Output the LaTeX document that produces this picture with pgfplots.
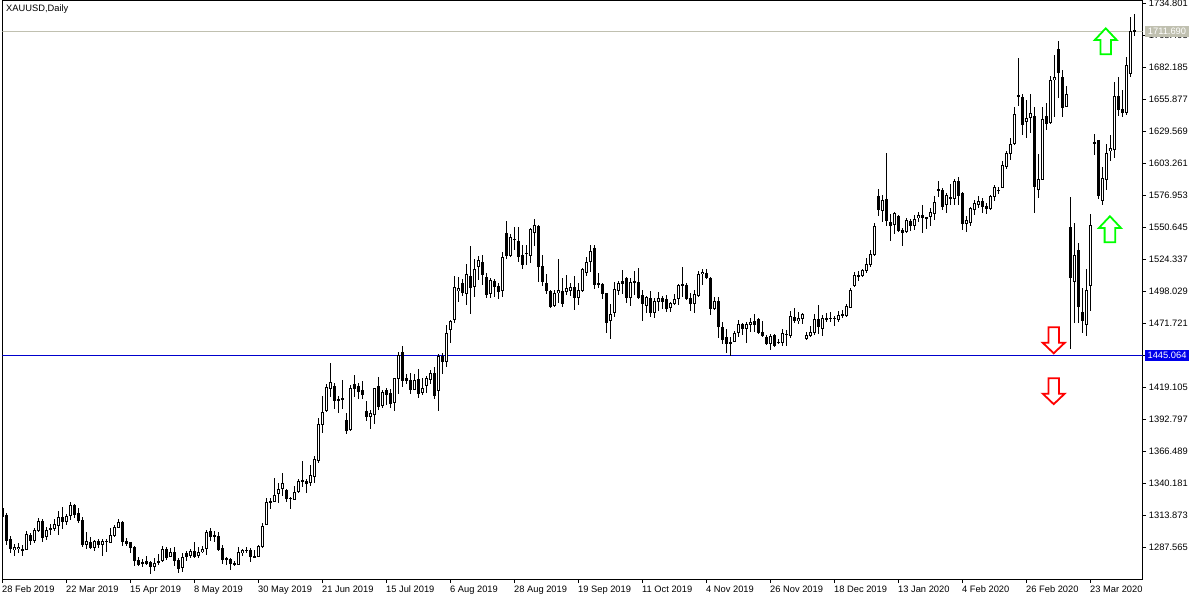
\documentclass[border=0pt]{standalone}
\usepackage{fontspec}
\setmainfont{Liberation Sans}
\usepackage{pgfplots}
\usepackage{pgfplotstable}
\pgfplotsset{compat=1.18}
\definecolor{lineblue}{RGB}{0,0,205}
\definecolor{labelblue}{RGB}{0,0,235}
\definecolor{pricegrey}{RGB}{192,192,176}
\definecolor{upgreen}{RGB}{0,255,0}
\definecolor{downred}{RGB}{255,0,0}
\pgfdeclareplotmark{bigup}{%
  \pgfpathmoveto{\pgfqpoint{0bp}{13bp}}%
  \pgfpathlineto{\pgfqpoint{11bp}{1.3bp}}%
  \pgfpathlineto{\pgfqpoint{5.3bp}{1.3bp}}%
  \pgfpathlineto{\pgfqpoint{5.3bp}{-13bp}}%
  \pgfpathlineto{\pgfqpoint{-5.3bp}{-13bp}}%
  \pgfpathlineto{\pgfqpoint{-5.3bp}{1.3bp}}%
  \pgfpathlineto{\pgfqpoint{-11bp}{1.3bp}}%
  \pgfpathclose\pgfusepathqfillstroke}
\pgfdeclareplotmark{bigdown}{%
  \pgfpathmoveto{\pgfqpoint{0bp}{-13bp}}%
  \pgfpathlineto{\pgfqpoint{11bp}{-2.5bp}}%
  \pgfpathlineto{\pgfqpoint{5.3bp}{-2.5bp}}%
  \pgfpathlineto{\pgfqpoint{5.3bp}{13bp}}%
  \pgfpathlineto{\pgfqpoint{-5.3bp}{13bp}}%
  \pgfpathlineto{\pgfqpoint{-5.3bp}{-2.5bp}}%
  \pgfpathlineto{\pgfqpoint{-11bp}{-2.5bp}}%
  \pgfpathclose\pgfusepathqfillstroke}
\pgfplotstableread{
i o h l c
0 1319.8 1320.3 1312.9 1312.9
1 1314.0 1315.9 1289.6 1293.2
2 1294.3 1296.8 1282.8 1286.6
3 1285.8 1290.4 1280.9 1287.7
4 1286.3 1291.0 1283.0 1288.2
5 1286.3 1289.6 1280.9 1285.5
6 1285.5 1301.1 1285.5 1298.7
7 1297.8 1299.8 1289.6 1293.2
8 1293.2 1303.3 1291.0 1301.9
9 1301.1 1312.1 1300.0 1309.3
10 1309.3 1310.7 1291.8 1295.6
11 1296.2 1304.1 1293.7 1301.9
12 1301.7 1306.9 1297.8 1303.3
13 1303.0 1311.0 1301.4 1306.9
14 1305.5 1317.6 1297.8 1312.4
15 1312.4 1321.1 1302.8 1308.5
16 1308.8 1315.1 1306.1 1313.5
17 1313.5 1325.0 1310.2 1322.5
18 1322.5 1323.3 1312.1 1314.3
19 1315.9 1319.8 1308.0 1309.3
20 1310.2 1312.4 1287.7 1289.3
21 1289.6 1300.0 1286.6 1292.6
22 1291.8 1296.5 1286.6 1287.2
23 1287.2 1293.7 1284.9 1292.6
24 1292.6 1294.3 1287.2 1289.6
25 1289.6 1294.3 1280.6 1292.9
26 1293.2 1294.3 1284.1 1292.1
27 1291.5 1303.9 1291.5 1297.8
28 1297.0 1306.1 1296.5 1304.1
29 1303.9 1310.7 1303.3 1308.3
30 1308.8 1309.3 1289.1 1292.3
31 1292.6 1295.6 1289.1 1290.7
32 1291.8 1292.4 1282.8 1287.4
33 1288.0 1288.5 1272.6 1276.7
34 1277.0 1280.0 1272.6 1273.4
35 1275.6 1278.1 1271.5 1274.5
36 1276.2 1280.3 1273.2 1274.3
37 1275.6 1276.7 1266.0 1271.8
38 1271.8 1278.6 1268.2 1275.1
39 1275.4 1282.2 1273.2 1276.7
40 1276.7 1288.8 1275.6 1286.1
41 1286.3 1287.7 1277.3 1279.2
42 1280.0 1286.9 1279.8 1283.9
43 1283.9 1287.7 1272.4 1276.7
44 1277.3 1278.6 1266.3 1270.2
45 1270.4 1283.3 1267.7 1279.5
46 1282.8 1284.9 1276.7 1280.0
47 1280.9 1286.6 1278.6 1284.7
48 1284.7 1291.8 1278.9 1280.0
49 1280.9 1288.2 1278.6 1283.6
50 1283.9 1289.1 1283.3 1286.1
51 1286.6 1301.9 1281.4 1300.3
52 1301.1 1303.3 1292.9 1296.5
53 1297.6 1301.4 1292.4 1296.7
54 1297.0 1300.6 1284.7 1285.5
55 1287.2 1289.3 1273.7 1277.3
56 1278.9 1280.0 1273.4 1277.8
57 1277.8 1278.6 1269.1 1274.0
58 1274.8 1276.2 1272.6 1273.4
59 1273.4 1287.7 1272.9 1283.6
60 1282.8 1286.1 1280.9 1285.2
61 1285.8 1287.7 1282.8 1285.0
62 1285.5 1286.9 1275.6 1279.5
63 1280.3 1285.5 1279.5 1279.5
64 1280.0 1289.9 1279.5 1288.8
65 1288.2 1307.4 1287.4 1304.9
66 1306.3 1328.0 1306.3 1324.7
67 1325.8 1328.5 1319.5 1324.7
68 1325.2 1345.0 1324.7 1330.4
69 1331.8 1340.3 1324.4 1335.6
70 1335.6 1348.8 1329.9 1340.6
71 1334.6 1335.4 1325.2 1327.7
72 1328.3 1329.3 1319.5 1327.4
73 1326.9 1338.1 1326.3 1333.2
74 1333.5 1343.6 1332.1 1342.5
75 1342.8 1358.7 1337.6 1341.1
76 1342.0 1344.2 1332.6 1339.5
77 1340.3 1355.4 1338.1 1346.9
78 1345.8 1362.8 1340.9 1360.1
79 1358.4 1393.8 1357.3 1389.1
80 1388.0 1412.1 1382.0 1398.7
81 1399.8 1422.0 1399.0 1419.5
82 1418.1 1439.2 1411.3 1423.3
83 1420.3 1422.5 1401.4 1408.3
84 1409.6 1412.4 1398.1 1408.3
85 1410.5 1425.3 1401.4 1409.1
86 1392.4 1397.9 1381.2 1383.6
87 1384.4 1420.9 1383.3 1418.4
88 1421.7 1429.1 1411.6 1418.1
89 1420.1 1422.5 1409.6 1415.1
90 1416.8 1424.2 1409.9 1413.2
91 1399.5 1408.0 1391.8 1394.9
92 1395.1 1400.6 1385.3 1397.9
93 1396.2 1418.4 1389.4 1418.4
94 1420.1 1427.5 1400.6 1403.3
95 1404.2 1417.0 1402.2 1415.1
96 1416.8 1418.4 1404.7 1413.2
97 1414.3 1417.6 1402.2 1405.8
98 1406.6 1426.6 1400.1 1426.6
99 1426.4 1448.3 1413.8 1445.5
100 1448.0 1453.2 1419.8 1424.7
101 1426.9 1430.5 1422.0 1424.7
102 1425.0 1430.7 1413.8 1417.3
103 1417.0 1430.2 1416.8 1425.0
104 1425.8 1434.3 1410.5 1414.0
105 1414.6 1427.2 1413.2 1418.4
106 1420.6 1428.6 1414.9 1426.6
107 1425.5 1433.5 1422.3 1430.7
108 1430.7 1436.2 1409.6 1412.4
109 1415.9 1446.6 1400.1 1445.3
110 1445.3 1447.7 1430.2 1440.3
111 1440.3 1470.5 1435.9 1463.6
112 1466.6 1474.6 1456.0 1474.0
113 1474.9 1510.8 1472.4 1501.5
114 1498.7 1509.7 1489.4 1500.6
115 1504.7 1508.0 1494.3 1497.1
116 1496.2 1520.6 1487.2 1512.1
117 1510.8 1535.4 1479.8 1501.2
118 1501.5 1524.7 1493.8 1516.3
119 1518.4 1527.2 1507.5 1523.6
120 1522.0 1528.0 1503.1 1511.9
121 1509.7 1513.0 1492.7 1495.4
122 1496.2 1508.8 1492.7 1507.5
123 1506.7 1508.0 1493.8 1502.0
124 1502.3 1504.7 1492.1 1497.9
125 1498.7 1530.8 1493.8 1526.1
126 1545.9 1556.0 1525.0 1527.5
127 1527.5 1545.3 1526.1 1542.6
128 1541.2 1550.8 1532.1 1540.4
129 1539.3 1550.8 1522.6 1526.7
130 1527.8 1536.3 1516.8 1519.8
131 1529.7 1536.3 1519.8 1528.9
132 1526.9 1550.5 1521.5 1549.1
133 1546.4 1557.4 1535.4 1552.4
134 1551.9 1553.0 1506.1 1518.4
135 1518.7 1528.0 1502.3 1506.1
136 1505.0 1512.4 1496.0 1498.4
137 1498.1 1499.3 1484.7 1485.6
138 1486.1 1499.3 1485.6 1496.5
139 1496.5 1524.5 1488.9 1499.0
140 1498.4 1508.8 1485.3 1487.7
141 1497.9 1511.6 1494.9 1500.6
142 1498.7 1504.7 1494.3 1501.5
143 1501.5 1510.8 1482.8 1492.9
144 1492.9 1504.7 1486.9 1499.3
145 1498.7 1517.6 1497.6 1516.5
146 1512.9 1526.7 1510.5 1522.0
147 1522.5 1536.3 1514.0 1531.0
148 1533.5 1536.3 1500.1 1503.6
149 1504.7 1512.9 1500.6 1503.6
150 1503.9 1505.3 1491.6 1496.2
151 1496.5 1497.1 1464.2 1472.4
152 1473.5 1487.7 1459.2 1479.3
153 1480.1 1505.8 1477.3 1499.8
154 1498.7 1506.7 1495.2 1504.7
155 1506.4 1515.7 1496.0 1504.5
156 1509.1 1510.2 1488.3 1493.0
157 1493.0 1508.8 1486.1 1505.6
158 1506.4 1515.2 1495.2 1505.3
159 1505.6 1517.4 1491.6 1492.7
160 1495.2 1499.3 1474.0 1488.0
161 1486.4 1494.3 1480.1 1493.2
162 1492.4 1498.2 1477.3 1480.6
163 1480.6 1492.4 1476.5 1490.5
164 1489.7 1497.3 1482.0 1492.7
165 1492.7 1494.3 1483.9 1489.7
166 1491.9 1495.4 1481.2 1483.9
167 1484.7 1489.7 1481.4 1488.3
168 1487.7 1495.7 1487.2 1491.9
169 1491.6 1504.2 1487.2 1503.4
170 1503.9 1518.4 1493.8 1502.8
171 1503.4 1505.3 1491.0 1492.1
172 1492.7 1497.1 1482.3 1487.7
173 1488.0 1499.3 1480.4 1496.0
174 1494.6 1514.9 1493.8 1512.4
175 1512.1 1516.8 1503.4 1514.0
176 1513.2 1516.2 1508.9 1509.4
177 1509.1 1509.7 1478.7 1483.9
178 1483.9 1493.8 1482.8 1490.2
179 1490.2 1493.2 1460.1 1468.6
180 1468.6 1473.0 1454.9 1458.2
181 1460.4 1466.9 1447.7 1455.2
182 1456.5 1460.9 1445.0 1455.2
183 1456.8 1465.8 1456.5 1463.6
184 1464.2 1474.6 1460.9 1471.0
185 1471.0 1472.4 1462.3 1467.5
186 1467.5 1473.2 1456.0 1471.0
187 1470.8 1476.0 1465.0 1473.0
188 1473.5 1479.5 1465.0 1470.8
189 1475.4 1476.5 1462.8 1464.2
190 1464.5 1473.8 1460.4 1461.2
191 1460.6 1462.3 1454.9 1455.2
192 1454.9 1463.1 1450.2 1461.2
193 1462.0 1462.8 1452.1 1453.2
194 1456.8 1458.7 1454.6 1455.7
195 1455.4 1467.5 1453.2 1463.6
196 1462.6 1466.4 1453.5 1463.4
197 1461.7 1481.7 1460.1 1477.6
198 1476.8 1484.5 1471.9 1474.0
199 1474.0 1480.9 1471.3 1476.0
200 1475.7 1480.6 1471.3 1479.5
201 1458.7 1465.0 1458.2 1462.0
202 1461.7 1469.7 1460.9 1464.5
203 1464.2 1479.5 1462.6 1475.2
204 1475.2 1486.9 1463.1 1469.1
205 1466.9 1478.7 1461.7 1476.0
206 1475.0 1480.1 1473.2 1476.0
207 1475.4 1480.9 1473.2 1476.5
208 1476.5 1477.9 1470.0 1476.0
209 1474.9 1482.0 1472.7 1478.4
210 1479.5 1482.5 1476.0 1478.2
211 1478.2 1487.5 1477.3 1486.1
212 1484.7 1500.6 1484.2 1499.3
213 1502.8 1513.8 1501.7 1511.6
214 1511.6 1515.2 1506.7 1510.5
215 1511.1 1516.5 1510.2 1515.7
216 1514.6 1525.3 1513.5 1520.4
217 1520.1 1532.1 1518.4 1528.6
218 1528.0 1554.1 1527.2 1551.6
219 1576.5 1582.3 1560.1 1565.0
220 1564.5 1577.4 1555.4 1573.2
221 1573.8 1611.6 1551.9 1556.3
222 1554.9 1561.7 1539.8 1552.2
223 1553.0 1563.7 1545.3 1562.6
224 1560.1 1561.2 1546.7 1547.8
225 1548.6 1550.0 1535.7 1546.4
226 1546.7 1558.2 1546.4 1556.5
227 1555.7 1557.4 1548.0 1552.2
228 1552.2 1560.9 1548.6 1557.4
229 1558.7 1563.1 1555.4 1560.6
230 1560.6 1568.9 1546.4 1558.2
231 1559.0 1559.0 1549.7 1558.2
232 1559.0 1566.4 1551.9 1563.1
233 1562.0 1576.5 1556.5 1571.6
234 1582.0 1588.6 1575.4 1580.9
235 1581.5 1582.8 1565.0 1567.8
236 1568.9 1578.7 1562.8 1577.4
237 1575.7 1586.1 1569.1 1573.8
238 1574.4 1590.2 1568.9 1588.6
239 1588.6 1592.4 1568.9 1576.3
240 1579.0 1579.6 1548.6 1553.2
241 1553.2 1560.1 1547.2 1556.8
242 1554.6 1567.8 1552.2 1566.4
243 1565.0 1573.3 1560.9 1570.5
244 1569.2 1576.8 1566.4 1572.4
245 1572.4 1575.2 1562.3 1567.8
246 1568.3 1570.5 1561.8 1565.9
247 1565.9 1577.4 1565.0 1576.3
248 1576.0 1585.6 1572.7 1583.9
249 1581.5 1584.2 1578.2 1580.7
250 1583.4 1605.0 1583.4 1602.0
251 1600.7 1613.8 1599.0 1611.9
252 1611.1 1624.0 1606.1 1619.0
253 1619.3 1649.4 1618.5 1643.7
254 1659.3 1690.0 1650.5 1658.2
255 1657.9 1660.4 1626.7 1635.2
256 1637.6 1655.5 1624.5 1640.4
257 1641.0 1660.4 1628.1 1644.5
258 1642.0 1649.4 1562.8 1584.2
259 1581.7 1611.1 1575.2 1590.2
260 1589.7 1649.4 1589.4 1639.6
261 1642.0 1653.3 1630.8 1635.7
262 1636.3 1675.2 1635.5 1671.6
263 1671.6 1692.5 1641.8 1674.1
264 1697.1 1703.7 1657.4 1677.9
265 1674.1 1680.1 1641.8 1649.2
266 1650.0 1667.0 1649.4 1660.7
267 1551.1 1575.7 1450.8 1508.8
268 1505.6 1554.6 1471.9 1527.8
269 1531.9 1537.6 1472.4 1485.0
270 1480.9 1500.6 1464.2 1474.0
271 1470.2 1516.3 1461.7 1499.0
272 1502.8 1561.7 1482.3 1552.4
273 1620.7 1627.2 1610.2 1619.6
274 1622.6 1622.6 1574.0 1576.8
275 1572.7 1600.1 1569.2 1591.1
276 1590.0 1619.3 1581.5 1611.6
277 1613.8 1626.7 1605.3 1615.7
278 1614.6 1670.0 1608.0 1658.5
279 1658.5 1674.1 1642.3 1647.2
280 1648.0 1663.7 1641.2 1644.5
281 1644.8 1691.1 1643.1 1684.0
282 1677.1 1723.4 1674.4 1711.9
283 1712.7 1725.9 1708.4 1711.7
}\candles
\begin{document}
\fontsize{9.35}{11}\selectfont
\begin{tikzpicture}
\path[use as bounding box] (-2.3bp,-20.7bp) rectangle (1197.7bp,579.3bp);
\begin{axis}[
  at={(0bp,0bp)}, anchor=south west,
  scale only axis, width=1140.4bp, height=578.3bp,
  xmin=0, xmax=285.1, ymin=1261.42, ymax=1736.86,
  axis line style={black,line width=1bp},
  tick style={black,line width=1bp},
  tick align=outside, major tick length=3.5bp,
  xtick pos=bottom, ytick pos=right,
  xtick={0,16,32,48,64,80,96,112,128,144,160,176,192,208,224,240,256,272},
  xticklabels={28 Feb 2019,22 Mar 2019,15 Apr 2019,8 May 2019,30 May 2019,21 Jun 2019,15 Jul 2019,6 Aug 2019,28 Aug 2019,19 Sep 2019,11 Oct 2019,4 Nov 2019,26 Nov 2019,18 Dec 2019,13 Jan 2020,4 Feb 2020,26 Feb 2020,23 Mar 2020},
  xticklabel style={anchor=north west,inner sep=0pt,xshift=-0.3bp,yshift=-2.6bp,font=\fontsize{9.35}{11}\selectfont},
  ytick={1287.565,1313.873,1340.181,1366.489,1392.797,1419.105,1445.413,1471.721,1498.029,1524.337,1550.645,1576.953,1603.261,1629.569,1655.877,1682.185,1708.493,1734.801},
  yticklabels={1287.565,1313.873,1340.181,1366.489,1392.797,1419.105,1445.413,1471.721,1498.029,1524.337,1550.645,1576.953,1603.261,1629.569,1655.877,1682.185,1708.493,1734.801},
  yticklabel style={anchor=west,inner sep=0pt,xshift=2.5bp,font=\fontsize{9.35}{11}\selectfont},
  error bars/error mark=none,
]
% reference lines
\addplot[pricegrey,line width=1bp,forget plot] coordinates {(0,1711.69)(285.1,1711.69)};
\addplot[lineblue,line width=1bp,forget plot] coordinates {(0,1445.064)(285.1,1445.064)};
% wicks
\addplot[draw=none,mark=none,forget plot,
  error bars/.cd,y dir=both,y explicit,error bar style={black,line width=1bp}]
  table[x=i,y=c,y error plus expr={\thisrow{h}-\thisrow{c}},y error minus expr={\thisrow{c}-\thisrow{l}}] {\candles};
% bodies, outer (black)
\addplot[draw=none,mark=none,forget plot,
  error bars/.cd,y dir=both,y explicit,error bar style={black,line width=3bp}]
  table[x=i,y expr={(\thisrow{o}+\thisrow{c})/2},
        y error plus expr={max(abs(\thisrow{o}-\thisrow{c})/2,0.41)},
        y error minus expr={max(abs(\thisrow{o}-\thisrow{c})/2,0.41)}] {\candles};
% bodies of rising days, inner (white)
\addplot[draw=none,mark=none,forget plot,
  restrict expr to domain={\thisrow{c}-\thisrow{o}}{0.01:1000},
  error bars/.cd,y dir=both,y explicit,error bar style={white,line width=1bp}]
  table[x=i,y expr={(\thisrow{o}+\thisrow{c})/2},
        y error plus expr={max((\thisrow{c}-\thisrow{o})/2-0.82,0)},
        y error minus expr={max((\thisrow{c}-\thisrow{o})/2-0.82,0)}] {\candles};
% signal arrows
\addplot[only marks,mark=bigup,mark options={draw=upgreen,fill=white,line width=1.8bp},forget plot]
  coordinates {(275.85,1703.7)(276.9,1549.2)};
\addplot[only marks,mark=bigdown,mark options={draw=downred,fill=white,line width=1.8bp},forget plot]
  coordinates {(262.85,1457.9)(262.85,1416.1)};
\end{axis}
\node[anchor=west,inner sep=0pt] at (3.7bp,569.8bp) {XAUUSD,Daily};
\node[fill=pricegrey,text=white,inner sep=0pt,minimum width=44bp,minimum height=10.7bp] at (1164.7bp,547.95bp) {1711.690};
\node[fill=labelblue,text=white,inner sep=0pt,minimum width=44bp,minimum height=10.4bp] at (1164.7bp,223.8bp) {1445.064};
\end{tikzpicture}
\end{document}
